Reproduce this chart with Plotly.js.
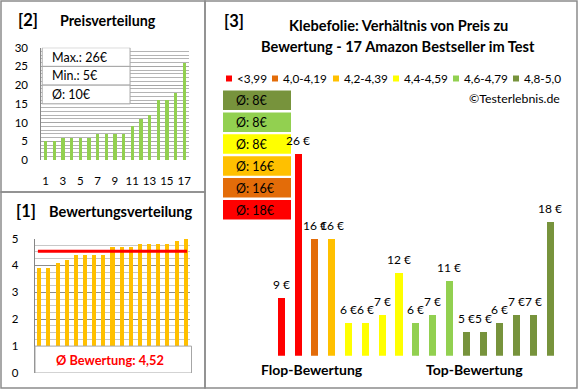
<!DOCTYPE html>
<html><head><meta charset="utf-8">
<script src="https://cdn.plot.ly/plotly-3.0.1.min.js"></script>
<style>html,body{margin:0;padding:0;background:#fff}#chart{width:580px;height:390px}</style>
</head><body><div id="chart"></div><script>
// ---- data ----
const productIndex = [1,2,3,4,5,6,7,8,9,10,11,12,13,14,15,16,17];
const sortedPrices = [5,5,6,6,6,6,7,7,7,7,9,11,12,16,16,18,26];
const sortedRatings = [3.9,3.9,4.1,4.2,4.4,4.4,4.4,4.4,4.7,4.7,4.7,4.8,4.8,4.8,4.8,4.9,5.0];
const pricesByRating = [9,26,16,16,6,6,7,12,6,7,11,5,5,6,7,7,18];
const ratingGroupOfProduct = [0,0,1,2,3,3,3,3,4,4,4,5,5,5,5,5,5];
const groupLabels = ['<3,99','4,0-4,19','4,2-4,39','4,4-4,59','4,6-4,79','4,8-5,0'];
const groupAverages = [18,16,16,8,8,8];
const priceTickVals = [1,3,5,7,9,11,13,15,17];
const priceTickText = ['1','3','5','7','9','11','13','15','17'];
const priceAxisTicks = [0,5,10,15,20,25,30];
const ratingAxisTicks = [0,1,2,3,4,5];

// ---- styling ----
const groupColors = ['#FF0000','#E36C09','#FFC000','#FFFF00','#92D050','#77933C'];
const W = 580, H = 390;
const fx = x => x / W;
const fy = y => 1 - y / H;
const FONT = 'Lato, "Open Sans", sans-serif';
const border = '#8C8C8C';

const maxP = Math.max(...sortedPrices), minP = Math.min(...sortedPrices);
const avgP = Math.round(sortedPrices.reduce((a,b)=>a+b,0) / sortedPrices.length);
const avgR = sortedRatings.reduce((a,b)=>a+b,0) / sortedRatings.length;
const avgRText = avgR.toFixed(2).replace('.', ',');

const traces = [
  {type:'bar', x:productIndex, y:sortedPrices, xaxis:'x', yaxis:'y', width:0.38,
   marker:{color:'#92D050'}, hoverinfo:'skip'},
  {type:'bar', x:productIndex, y:sortedRatings, xaxis:'x2', yaxis:'y2', width:0.44,
   marker:{color:'#FFC000'}, hoverinfo:'skip'},
  {type:'bar', x:productIndex, y:pricesByRating, xaxis:'x3', yaxis:'y3', width:0.42,
   marker:{color:ratingGroupOfProduct.map(g=>groupColors[g])}, hoverinfo:'skip'}
];

const shapes = [];
const annotations = [];
const txt = (text, x, y, o={}) => annotations.push(Object.assign({
  text, x, y, xref:'paper', yref:'paper', showarrow:false,
  xanchor:'left', yanchor:'middle', font:{family:FONT, size:12, color:'#000'}
}, o));
const bold = s => ({family:FONT, size:s, color:'#000', weight:'bold'});

// panel borders
[[1,1,205,192],[1,192,205,388],[205,1,577,388]].forEach(r=>shapes.push({
  type:'rect', xref:'paper', yref:'paper', x0:fx(r[0]), x1:fx(r[2]), y0:fy(r[3]), y1:fy(r[1]),
  line:{color:border, width:1.5}, fillcolor:'rgba(0,0,0,0)', layer:'below'}));

// panel 2 titles + stat box
txt('[2]', fx(16), fy(20), {font:bold(16.5)});
txt('Preisverteilung', fx(58), fy(20), {font:bold(14.3)});
const statRows = ['Max.: ' + maxP + '€', 'Min.: ' + minP + '€', 'Ø: ' + avgP + '€'];
statRows.forEach((t,i)=>{
  shapes.push({type:'rect', xref:'x', yref:'y', x0:0.6, x1:10.75, y0:25-5*i, y1:30-5*i,
    fillcolor:'#fff', line:{color:'#A6A6A6', width:1}});
  annotations.push({text:t, xref:'x', yref:'y', x:0.6, y:27.5-5*i, xshift:8, showarrow:false,
    xanchor:'left', yanchor:'middle', font:{family:FONT, size:12.5, color:'#000'}});
});

// panel 1 titles + avg box + avg line
txt('[1]', fx(14), fy(211), {font:bold(16.5)});
txt('Bewertungsverteilung', fx(47), fy(211), {font:bold(14.6)});
shapes.push({type:'line', xref:'x2', yref:'y2', x0:0.85, x1:17.15, y0:avgR, y1:avgR,
  line:{color:'#FF0000', width:3}});
shapes.push({type:'rect', xref:'paper', yref:'y2', x0:fx(35), x1:fx(191.5), y0:0, y1:1,
  fillcolor:'#fff', line:{color:'#A6A6A6', width:1}});
annotations.push({text:'Ø Bewertung: ' + avgRText, xref:'paper', yref:'y2', x:fx(110), y:0.5,
  showarrow:false, xanchor:'center', yanchor:'middle',
  font:{family:FONT, size:12.8, color:'#FF0000', weight:'bold'}});

// panel 3 titles
txt('[3]', fx(222), fy(21), {font:bold(16.5)});
txt('Klebefolie: Verhältnis von Preis zu', fx(398), fy(26), {xanchor:'center', font:bold(14.6)});
txt('Bewertung - 17 Amazon Bestseller im Test', fx(398), fy(46), {xanchor:'center', font:bold(14.6)});

// legend
const legX = [226, 272, 333, 393, 453, 513];
groupLabels.forEach((g,i)=>{
  shapes.push({type:'rect', xref:'paper', yref:'paper', x0:fx(legX[i]), x1:fx(legX[i]+6),
    y0:fy(81.5), y1:fy(75.5), fillcolor:groupColors[i], line:{width:0}});
  txt(g, fx(legX[i]+9), fy(78.5), {font:{family:FONT, size:11.8, color:'#000'}});
});
txt('©Testerlebnis.de', fx(562), fy(98), {xanchor:'right', font:{family:FONT, size:12.3, color:'#000'}});

// average boxes (top to bottom: best group first)
for (let k=0; k<groupAverages.length; k++){
  const g = groupAverages.length - 1 - k;
  const top = 90.5 + k*21.9;
  shapes.push({type:'rect', xref:'paper', yref:'paper', x0:fx(223), x1:fx(291),
    y0:fy(top+19.5), y1:fy(top), fillcolor:groupColors[g], line:{width:0}});
  txt('Ø: ' + groupAverages[g] + '€', fx(234), fy(top+10), {font:{family:FONT, size:12.5, color:'#000'}});
}

// price labels above bars
pricesByRating.forEach((v,i)=>annotations.push({text:v + ' €', xref:'x3', yref:'y3',
  x:productIndex[i], y:v, yshift:4, showarrow:false, xanchor:'center', yanchor:'bottom',
  font:{family:FONT, size:12, color:'#000'}}));

txt('Flop-Bewertung', fx(312), fy(369), {xanchor:'center', font:bold(14)});
txt('Top-Bewertung', fx(474), fy(369), {xanchor:'center', font:bold(14)});

const tickFont = {family:FONT, size:11.5, color:'#000'};
const layout = {
  width:W, height:H, margin:{l:0,r:0,t:0,b:0}, paper_bgcolor:'#fff', plot_bgcolor:'rgba(0,0,0,0)',
  showlegend:false, bargap:0,
  font:{family:FONT},
  xaxis:{domain:[fx(41.3), fx(188.5)], range:[0.5,17.5], anchor:'y', tickmode:'array',
    tickvals:priceTickVals, ticktext:priceTickText, showgrid:false, zeroline:false,
    showline:false, ticks:'', tickfont:tickFont, ticklabelstandoff:12, fixedrange:true},
  yaxis:{domain:[fy(160), fy(47.7)], range:[0,30], anchor:'x', tickmode:'array',
    tickvals:priceAxisTicks, showgrid:true, gridcolor:'#A6A6A6', gridwidth:1,
    minor:{tick0:0, dtick:1, showgrid:true, gridcolor:'#B4B4B4', gridwidth:1},
    zeroline:false, showline:true, linecolor:'#868686', linewidth:1, ticks:'',
    tickfont:tickFont, ticklabelstandoff:10, fixedrange:true},
  xaxis2:{domain:[fx(34.7), fx(190.3)], range:[0.5,17.5], anchor:'y2', showticklabels:false,
    showgrid:false, zeroline:false, showline:false, ticks:'', fixedrange:true},
  yaxis2:{domain:[fy(373), fy(238.5)], range:[0,5], anchor:'x2', tickmode:'array',
    tickvals:ratingAxisTicks, showgrid:true, gridcolor:'#8C8C8C', gridwidth:1,
    minor:{tick0:0, dtick:0.25, showgrid:true, gridcolor:'#C8C8C8', gridwidth:1},
    zeroline:false, showline:true, linecolor:'#868686', linewidth:1, ticks:'',
    tickfont:tickFont, ticklabelstandoff:13, fixedrange:true},
  xaxis3:{domain:[fx(272.9), fx(558.7)], range:[0.5,17.5], anchor:'y3', visible:false, fixedrange:true},
  yaxis3:{domain:[fy(355.7), fy(140)], range:[2.18,27.65], anchor:'x3', visible:false, fixedrange:true},
  shapes, annotations
};
Plotly.newPlot('chart', traces, layout, {staticPlot:true, displayModeBar:false});
</script></body></html>
